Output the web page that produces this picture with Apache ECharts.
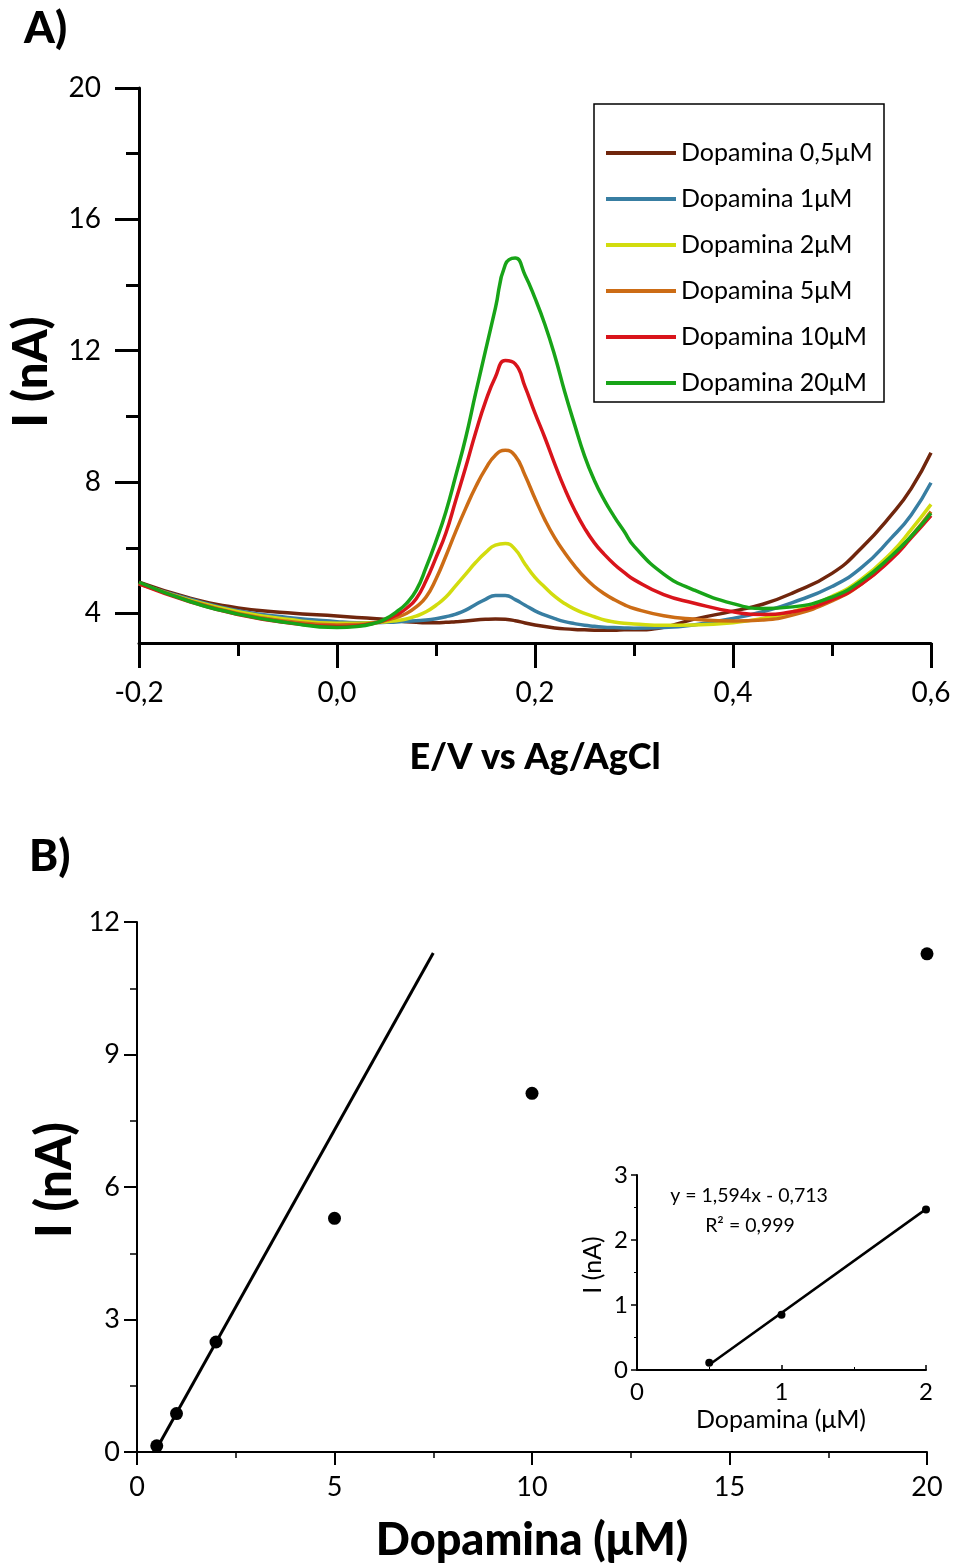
<!DOCTYPE html>
<html>
<head>
<meta charset="utf-8">
<script src="https://cdn.jsdelivr.net/npm/echarts@6/dist/echarts.min.js"></script>
<style>
html,body{margin:0;padding:0;background:#fff;}
#chart{width:956px;height:1564px;}
</style>
</head>
<body>
<div id="chart"></div>
<script>
// ---------- Panel A data (E/V vs Ag/AgCl, I in nA) ----------
var potential = [-0.2, -0.15, -0.1, -0.05, 0, 0.02, 0.04,
  0.05, 0.06, 0.07, 0.08, 0.09, 0.10, 0.11, 0.12, 0.13, 0.14, 0.15, 0.16, 0.17, 0.18, 0.19, 0.20, 0.21, 0.22, 0.23, 0.24, 0.25, 0.26, 0.27, 0.28, 0.29, 0.30,
  0.33, 0.36, 0.4, 0.43, 0.46, 0.5, 0.53, 0.56, 0.58, 0.6];
var seriesNames = ['Dopamina 0,5\u03bcM', 'Dopamina 1\u03bcM', 'Dopamina 2\u03bcM', 'Dopamina 5\u03bcM', 'Dopamina 10\u03bcM', 'Dopamina 20\u03bcM'];
var i05 = [4.95, 4.48, 4.17, 4.02, 3.92, 3.88, 3.84,
  3.82, 3.78, 3.75, 3.73, 3.72, 3.72, 3.73, 3.75, 3.77, 3.80, 3.82, 3.83, 3.82, 3.78, 3.71, 3.65, 3.60, 3.56, 3.53, 3.51, 3.50, 3.49, 3.49, 3.49, 3.50, 3.50,
  3.58, 3.82, 4.07, 4.28, 4.62, 5.22, 6.00, 7.00, 7.80, 8.89];
var i1 = [4.90, 4.45, 4.08, 3.88, 3.75, 3.72, 3.72,
  3.73, 3.74, 3.76, 3.78, 3.80, 3.84, 3.90, 3.98, 4.10, 4.27, 4.43, 4.55, 4.55, 4.42, 4.25, 4.08, 3.95, 3.84, 3.75, 3.69, 3.64, 3.61, 3.58, 3.57, 3.56, 3.55,
  3.57, 3.65, 3.85, 4.05, 4.33, 4.82, 5.40, 6.30, 7.00, 7.98];
var i2 = [4.90, 4.42, 4.05, 3.82, 3.70, 3.70, 3.72,
  3.75, 3.78, 3.83, 3.92, 4.05, 4.25, 4.50, 4.85, 5.20, 5.55, 5.85, 6.08, 6.13, 5.95, 5.50, 5.10, 4.80, 4.52, 4.30, 4.13, 4.00, 3.90, 3.80, 3.74, 3.70, 3.68,
  3.64, 3.65, 3.72, 3.85, 4.05, 4.52, 5.05, 5.85, 6.55, 7.32];
var i5 = [4.92, 4.40, 4.00, 3.76, 3.65, 3.66, 3.73,
  3.80, 3.88, 4.00, 4.20, 4.50, 5.05, 5.75, 6.50, 7.20, 7.85, 8.40, 8.82, 8.97, 8.80, 8.20, 7.50, 6.85, 6.30, 5.85, 5.45, 5.10, 4.82, 4.60, 4.42, 4.27, 4.15,
  3.93, 3.83, 3.77, 3.80, 3.95, 4.38, 4.90, 5.70, 6.35, 7.10];
var i10 = [4.90, 4.37, 3.97, 3.72, 3.60, 3.62, 3.72,
  3.82, 3.95, 4.15, 4.45, 5.00, 5.70, 6.45, 7.45, 8.45, 9.50, 10.45, 11.20, 11.70, 11.60, 10.90, 10.10, 9.35, 8.55, 7.80, 7.15, 6.60, 6.15, 5.80, 5.50, 5.25, 5.03,
  4.57, 4.32, 4.05, 3.97, 4.05, 4.42, 4.90, 5.65, 6.30, 6.98];
var i20 = [4.95, 4.38, 3.98, 3.72, 3.57, 3.60, 3.72,
  3.85, 4.05, 4.30, 4.70, 5.40, 6.20, 7.10, 8.20, 9.35, 10.70, 12.00, 13.30, 14.62, 14.82, 14.30, 13.60, 12.80, 11.85, 10.75, 9.75, 8.80, 8.05, 7.45, 6.95, 6.50, 6.05,
  5.20, 4.72, 4.30, 4.15, 4.20, 4.50, 5.00, 5.75, 6.35, 7.05];
var colorsA = ['#70260d', '#387ea2', '#d2dc0e', '#cc6c15', '#d9141b', '#18a418'];
var yTicksA = [4, 8, 12, 16, 20];
var yMinorTicksA = [6, 10, 14, 18];

// ---------- Panel B data (I vs concentration) ----------
var conc = [0.5, 1, 2, 5, 10, 20];
var currentB = [0.14, 0.87, 2.49, 5.29, 8.12, 11.28];
var fitLineB = [[0.5, 0.08], [7.5, 11.30]];

// ---------- Inset data ----------
var concInset = [0.5, 1, 2];
var currentInset = [0.11, 0.85, 2.47];
var fitLineInset = [[0.5, 0.08], [2, 2.475]];

var FONT = 'Lato';

function pairs(xs, ys) { return xs.map(function (x, i) { return [x, ys[i]]; }); }
var seriesA = [i05, i1, i2, i5, i10, i20].map(function (arr, k) {
  return {
    name: seriesNames[k], type: 'line', xAxisIndex: 0, yAxisIndex: 0,
    data: pairs(potential, arr), smooth: 0.5, symbol: 'none',
    lineStyle: { color: colorsA[k], width: 3.5 }, itemStyle: { color: colorsA[k] },
    z: 3 + k
  };
});

var chart = echarts.init(document.getElementById('chart'), null, { renderer: 'canvas' });
var option = {
  backgroundColor: '#fff',
  animation: false,
  grid: [
    { left: 139, top: 88, width: 792, height: 555 },
    { left: 137, top: 922, width: 790, height: 530 },
    { left: 637, top: 1175, width: 289, height: 195 }
  ],
  legend: {
    data: seriesNames, orient: 'vertical', left: 606, top: 140,
    icon: 'rect', itemWidth: 70, itemHeight: 4, itemGap: 20, padding: 0,
    textStyle: { fontFamily: FONT, fontSize: 25, color: '#000', lineHeight: 26 }
  },
  xAxis: [
    {
      gridIndex: 0, type: 'value', min: -0.2, max: 0.6, interval: 0.2,
      axisLine: { show: true, onZero: false, lineStyle: { color: '#000', width: 3 } },
      axisTick: { show: true, length: 25, lineStyle: { color: '#000', width: 3 } },
      minorTick: { show: true, splitNumber: 2, length: 13, lineStyle: { color: '#000', width: 3 } },
      splitLine: { show: false },
      axisLabel: { margin: 36, fontFamily: FONT, fontSize: 28, color: '#000',
        formatter: function (v) { return v.toFixed(1).replace('.', ','); } }
    },
    {
      gridIndex: 1, type: 'value', min: 0, max: 20, interval: 5,
      axisLine: { show: true, onZero: false, lineStyle: { color: '#000', width: 2 } },
      axisTick: { show: true, length: 13, lineStyle: { color: '#000', width: 2 } },
      minorTick: { show: true, splitNumber: 2, length: 6, lineStyle: { color: '#000', width: 1.5 } },
      splitLine: { show: false },
      axisLabel: { margin: 22, fontFamily: FONT, fontSize: 27, color: '#000' }
    },
    {
      gridIndex: 2, type: 'value', min: 0, max: 2, interval: 1,
      axisLine: { show: true, onZero: false, lineStyle: { color: '#000', width: 2 } },
      axisTick: { show: true, inside: true, length: 5, lineStyle: { color: '#000', width: 1.5 } },
      minorTick: { show: true, splitNumber: 2, length: 3, lineStyle: { color: '#000', width: 1 } },
      splitLine: { show: false },
      axisLabel: { margin: 10, fontFamily: FONT, fontSize: 24, color: '#000' }
    }
  ],
  yAxis: [
    {
      gridIndex: 0, type: 'value', min: 3.1, max: 20, position: 'left',
      axisLine: { show: true, onZero: false, lineStyle: { color: '#000', width: 3 } },
      axisTick: { show: true, length: 24, customValues: yTicksA, lineStyle: { color: '#000', width: 3 } },
      splitLine: { show: false },
      axisLabel: { margin: 38, customValues: yTicksA, fontFamily: FONT, fontSize: 28, color: '#000' }
    },
    {
      gridIndex: 0, type: 'value', min: 3.1, max: 20, position: 'left', offset: 0,
      axisLine: { show: false, onZero: false },
      axisTick: { show: true, length: 13, customValues: yMinorTicksA, lineStyle: { color: '#000', width: 3 } },
      splitLine: { show: false },
      axisLabel: { show: false }
    },
    {
      gridIndex: 1, type: 'value', min: 0, max: 12, interval: 3,
      axisLine: { show: true, onZero: false, lineStyle: { color: '#000', width: 2 } },
      axisTick: { show: true, length: 13, lineStyle: { color: '#000', width: 2 } },
      minorTick: { show: true, splitNumber: 2, length: 7, lineStyle: { color: '#000', width: 1.5 } },
      splitLine: { show: false },
      axisLabel: { margin: 17, fontFamily: FONT, fontSize: 27, color: '#000' }
    },
    {
      gridIndex: 2, type: 'value', min: 0, max: 3, interval: 1,
      axisLine: { show: true, onZero: false, lineStyle: { color: '#000', width: 2 } },
      axisTick: { show: true, length: 6, lineStyle: { color: '#000', width: 1.5 } },
      minorTick: { show: true, splitNumber: 2, length: 3, lineStyle: { color: '#000', width: 1 } },
      splitLine: { show: false },
      axisLabel: { margin: 9, fontFamily: FONT, fontSize: 24, color: '#000' }
    }
  ],
  series: seriesA.concat([
    {
      name: 'fitB', type: 'line', xAxisIndex: 1, yAxisIndex: 2, data: fitLineB,
      symbol: 'none', lineStyle: { color: '#000', width: 3 }, z: 2
    },
    {
      name: 'pointsB', type: 'scatter', xAxisIndex: 1, yAxisIndex: 2, data: pairs(conc, currentB),
      symbol: 'circle', symbolSize: 13, itemStyle: { color: '#000', opacity: 1 }, z: 3
    },
    {
      name: 'fitInset', type: 'line', xAxisIndex: 2, yAxisIndex: 3, data: fitLineInset,
      symbol: 'none', lineStyle: { color: '#000', width: 2.5 }, z: 2
    },
    {
      name: 'pointsInset', type: 'scatter', xAxisIndex: 2, yAxisIndex: 3, data: pairs(concInset, currentInset),
      symbol: 'circle', symbolSize: 8, itemStyle: { color: '#000', opacity: 1 }, z: 3
    }
  ]),
  graphic: [
    { type: 'rect', shape: { x: 594, y: 104, width: 290, height: 298 },
      style: { fill: 'none', stroke: '#000', lineWidth: 1.5 }, z: 1 },
    { type: 'text', x: 24, y: 29, style: { text: 'A)', fontFamily: FONT, fontWeight: 900, fontSize: 44, fill: '#000', verticalAlign: 'middle' } },
    { type: 'text', x: 29, y: 857, style: { text: 'B)', fontFamily: FONT, fontWeight: 900, fontSize: 44, fill: '#000', verticalAlign: 'middle' } },
    { type: 'text', x: 535, y: 757, style: { text: 'E/V vs Ag/AgCl', fontFamily: FONT, fontWeight: 900, fontSize: 36, fill: '#000', align: 'center', verticalAlign: 'middle' } },
    { type: 'text', x: 32, y: 372, rotation: Math.PI / 2, style: { text: 'I (nA)', fontFamily: FONT, fontWeight: 900, fontSize: 47, fill: '#000', align: 'center', verticalAlign: 'middle' } },
    { type: 'text', x: 532, y: 1540, style: { text: 'Dopamina (\u03bcM)', fontFamily: FONT, fontWeight: 900, fontSize: 45, fill: '#000', align: 'center', verticalAlign: 'middle' } },
    { type: 'text', x: 55, y: 1180, rotation: Math.PI / 2, style: { text: 'I (nA)', fontFamily: FONT, fontWeight: 900, fontSize: 49, fill: '#000', align: 'center', verticalAlign: 'middle' } },
    { type: 'text', x: 781, y: 1420, style: { text: 'Dopamina (\u03bcM)', fontFamily: FONT, fontSize: 25, fill: '#000', align: 'center', verticalAlign: 'middle' } },
    { type: 'text', x: 593, y: 1265, rotation: Math.PI / 2, style: { text: 'I (nA)', fontFamily: FONT, fontSize: 25, fill: '#000', align: 'center', verticalAlign: 'middle' } },
    { type: 'text', x: 749, y: 1196, style: { text: 'y = 1,594x - 0,713', fontFamily: FONT, fontSize: 19.5, fill: '#000', align: 'center', verticalAlign: 'middle' } },
    { type: 'text', x: 750, y: 1226, style: { text: 'R\u00b2 = 0,999', fontFamily: FONT, fontSize: 19.5, fill: '#000', align: 'center', verticalAlign: 'middle' } }
  ]
};
chart.setOption(option);
</script>
</body>
</html>
